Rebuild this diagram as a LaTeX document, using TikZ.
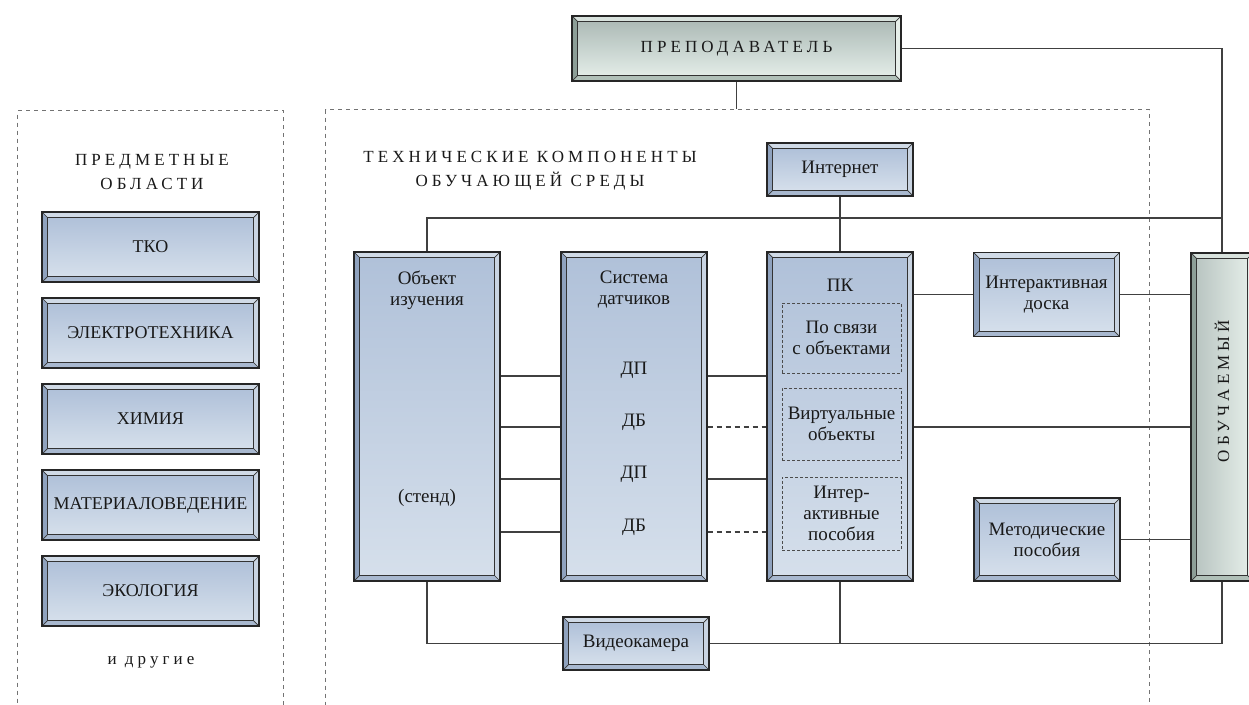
\documentclass[tikz,border=0pt]{standalone}
\usepackage{fontspec}
\setmainfont{Liberation Serif}
\newfontfamily\spacedfont[LetterSpace=24]{Liberation Serif}
\usetikzlibrary{positioning, calc}

% couleurs des cadres en relief
\definecolor{bltop}{HTML}{D0DAE6}
\definecolor{blleft}{HTML}{8FA2BE}
\definecolor{blbot}{HTML}{A8B8CF}
\definecolor{blright}{HTML}{C9D4E2}
\definecolor{blA}{HTML}{B0C1D9}
\definecolor{blB}{HTML}{D5DFEB}
\definecolor{grtop}{HTML}{D8E2DD}
\definecolor{grleft}{HTML}{8C9E97}
\definecolor{grbot}{HTML}{B0C0B8}
\definecolor{grright}{HTML}{E6EEE9}
\definecolor{grA}{HTML}{ADBBB7}
\definecolor{grB}{HTML}{E3ECE7}
\colorlet{ghtop}{grtop}
\colorlet{ghleft}{grleft}
\colorlet{ghbot}{grbot}
\colorlet{ghright}{grright}

\tikzset{
  blshade/.style={top color=blA, bottom color=blB},
  grshade/.style={top color=grA, bottom color=grB},
  ghshade/.style={left color=grA!85!white, right color=grB},
  bevel/.style={draw=black!85, line width=1.1, fill=#1right, path picture={
    \path (path picture bounding box.south west) coordinate (bsw)
          (path picture bounding box.north east) coordinate (bne)
          (path picture bounding box.north west) coordinate (bnw)
          (path picture bounding box.south east) coordinate (bse);
    \fill[#1top] (bnw) -- (bne) -- ([shift={(-5.5,-5.5)}]bne) -- ([shift={(5.5,-5.5)}]bnw) -- cycle;
    \fill[#1left] (bnw) -- ([shift={(5.5,-5.5)}]bnw) -- ([shift={(5.5,5.5)}]bsw) -- (bsw) -- cycle;
    \fill[#1bot] (bsw) -- ([shift={(5.5,5.5)}]bsw) -- ([shift={(-5.5,5.5)}]bse) -- (bse) -- cycle;
    \shade[#1shade, draw=black!80, line width=0.9] ([shift={(5.5,5.5)}]bsw) rectangle ([shift={(-5.5,-5.5)}]bne);
    \draw[black!80, line width=0.7] (bnw) -- ++(5.5,-5.5) (bne) -- ++(-5.5,-5.5)
          (bsw) -- ++(5.5,5.5) (bse) -- ++(-5.5,5.5);
  }},
  lbl/.style={font=\fontsize{19}{21}\selectfont, align=center, text=black!90, inner sep=0},
  title/.style={font=\spacedfont\fontsize{17}{24}\selectfont, align=center, text=black!90, inner sep=0},
  blbox/.style={bevel=bl, lbl},
  areabox/.style={blbox, font=\fontsize{18}{21}\selectfont, minimum width=217, minimum height=70},
  grbox/.style={bevel=gr, title},
  ghbox/.style={bevel=gh},
  inbox/.style={lbl, draw=black!70, line width=0.9, dash pattern=on 3pt off 2pt, minimum width=119},
  frame/.style={draw=black!55, line width=1.3, dash pattern=on 4pt off 4pt, minimum width=#1, minimum height=640, anchor=north west},
  wire/.style={draw=black!75, line width=1.2},
  dwire/.style={wire, dash pattern=on 5pt off 4pt},
}

\begin{document}
\begin{tikzpicture}[x=1pt, y=1pt]
\useasboundingbox[fill=white] (0,0) rectangle (1249,-704);

% zones en pointillés
\node[frame=266] (areas) at (17,-110) {};
\node[frame=824] (tech) at (325,-109) {};
\node[title] (areastitle) at (152,-172.5) {ПРЕДМЕТНЫЕ\\ОБЛАСТИ};
\node[title] (techtitle) at (530,-170.5) {ТЕХНИЧЕСКИЕ КОМПОНЕНТЫ\\ОБУЧАЮЩЕЙ СРЕДЫ};
\node[title] (others) at (151,-662) {и другие};

% domaines
\foreach \name [count=\i] in {ТКО, ЭЛЕКТРОТЕХНИКА, ХИМИЯ, МАТЕРИАЛОВЕДЕНИЕ, ЭКОЛОГИЯ}
  \node[areabox] (area\i) at (150.5,{-247-86*(\i-1)}) {\name};

% acteurs
\node[grbox, minimum width=329, minimum height=65] (teacher) at (736.5,-48.5) {ПРЕПОДАВАТЕЛЬ};
\node[ghbox, minimum width=62, minimum height=328] (learner) at (1222,-417) {};
\node[title, rotate=90] (learnertext) at (1222,-391) {ОБУЧАЕМЫЙ};

% composants techniques
\node[blbox, minimum width=146, minimum height=329] (obj) at (427,-416.5) {};
\node[blbox, minimum width=146, minimum height=329] (sens) at (634,-416.5) {};
\node[blbox, minimum width=146, minimum height=329] (pc) at (840,-416.5) {};
\node[blbox, minimum width=146, minimum height=53] (inet) at (840,-169.5) {Интернет};
\node[blbox, minimum width=146, minimum height=84] (board) at (1046.5,-294.5) {Интерактивная\\доска};
\node[blbox, minimum width=146, minimum height=83] (manual) at (1047,-539.5) {Методические\\пособия};
\node[blbox, minimum width=146, minimum height=53] (cam) at (636,-643.5) {Видеокамера};

\node[lbl] (objtext) at (427,-290) {Объект\\изучения};
\node[lbl] (stand) at (427,-498) {(стенд)};
\node[lbl] (senstext) at (634,-290) {Система\\датчиков};
\foreach \t/\y [count=\i] in {ДП/370, ДБ/422, ДП/474, ДБ/527}
  \node[lbl] (d\i) at (634,-\y) {\t};
\node[lbl] (pctext) at (840,-285) {ПК};
\node[inbox, minimum height=70] (pc1) at (841.5,-338) {По связи\\с объектами};
\node[inbox, minimum height=72] (pc2) at (841.5,-424) {Виртуальные\\объекты};
\node[inbox, minimum height=73] (pc3) at (841.5,-513.5) {Интер-\\активные\\пособия};

% liaisons
\foreach \y in {376,427,479,532}
  \draw[wire] (obj.east |- 0,-\y) -- (sens.west |- 0,-\y);
\foreach \y/\s in {376/wire, 427/dwire, 479/wire, 532/dwire}
  \draw[\s] (sens.east |- 0,-\y) -- (pc.west |- 0,-\y);
\draw[wire] (pc.east |- board.west) -- (board.west);
\draw[wire] (board.east) -- (board.east -| learner.west);
\draw[wire] (pc.east |- 0,-427) -- (learner.west |- 0,-427);
\draw[wire] (manual.east) -- (manual.east -| learner.west);
\draw[wire] (teacher.east) -| (learner.north);
\draw[wire] (teacher.south) -- (teacher.south |- tech.north);
\coordinate (busr) at (learner.north |- 0,-218);
\draw[wire] (obj.north) |- (busr);
\draw[wire] (inet.south) -- (pc.north);
\draw[wire] (obj.south) |- (cam.west);
\draw[wire] (cam.east) -| (learner.south);
\draw[wire] (pc.south) -- (pc.south |- cam.east);
\end{tikzpicture}
\end{document}
